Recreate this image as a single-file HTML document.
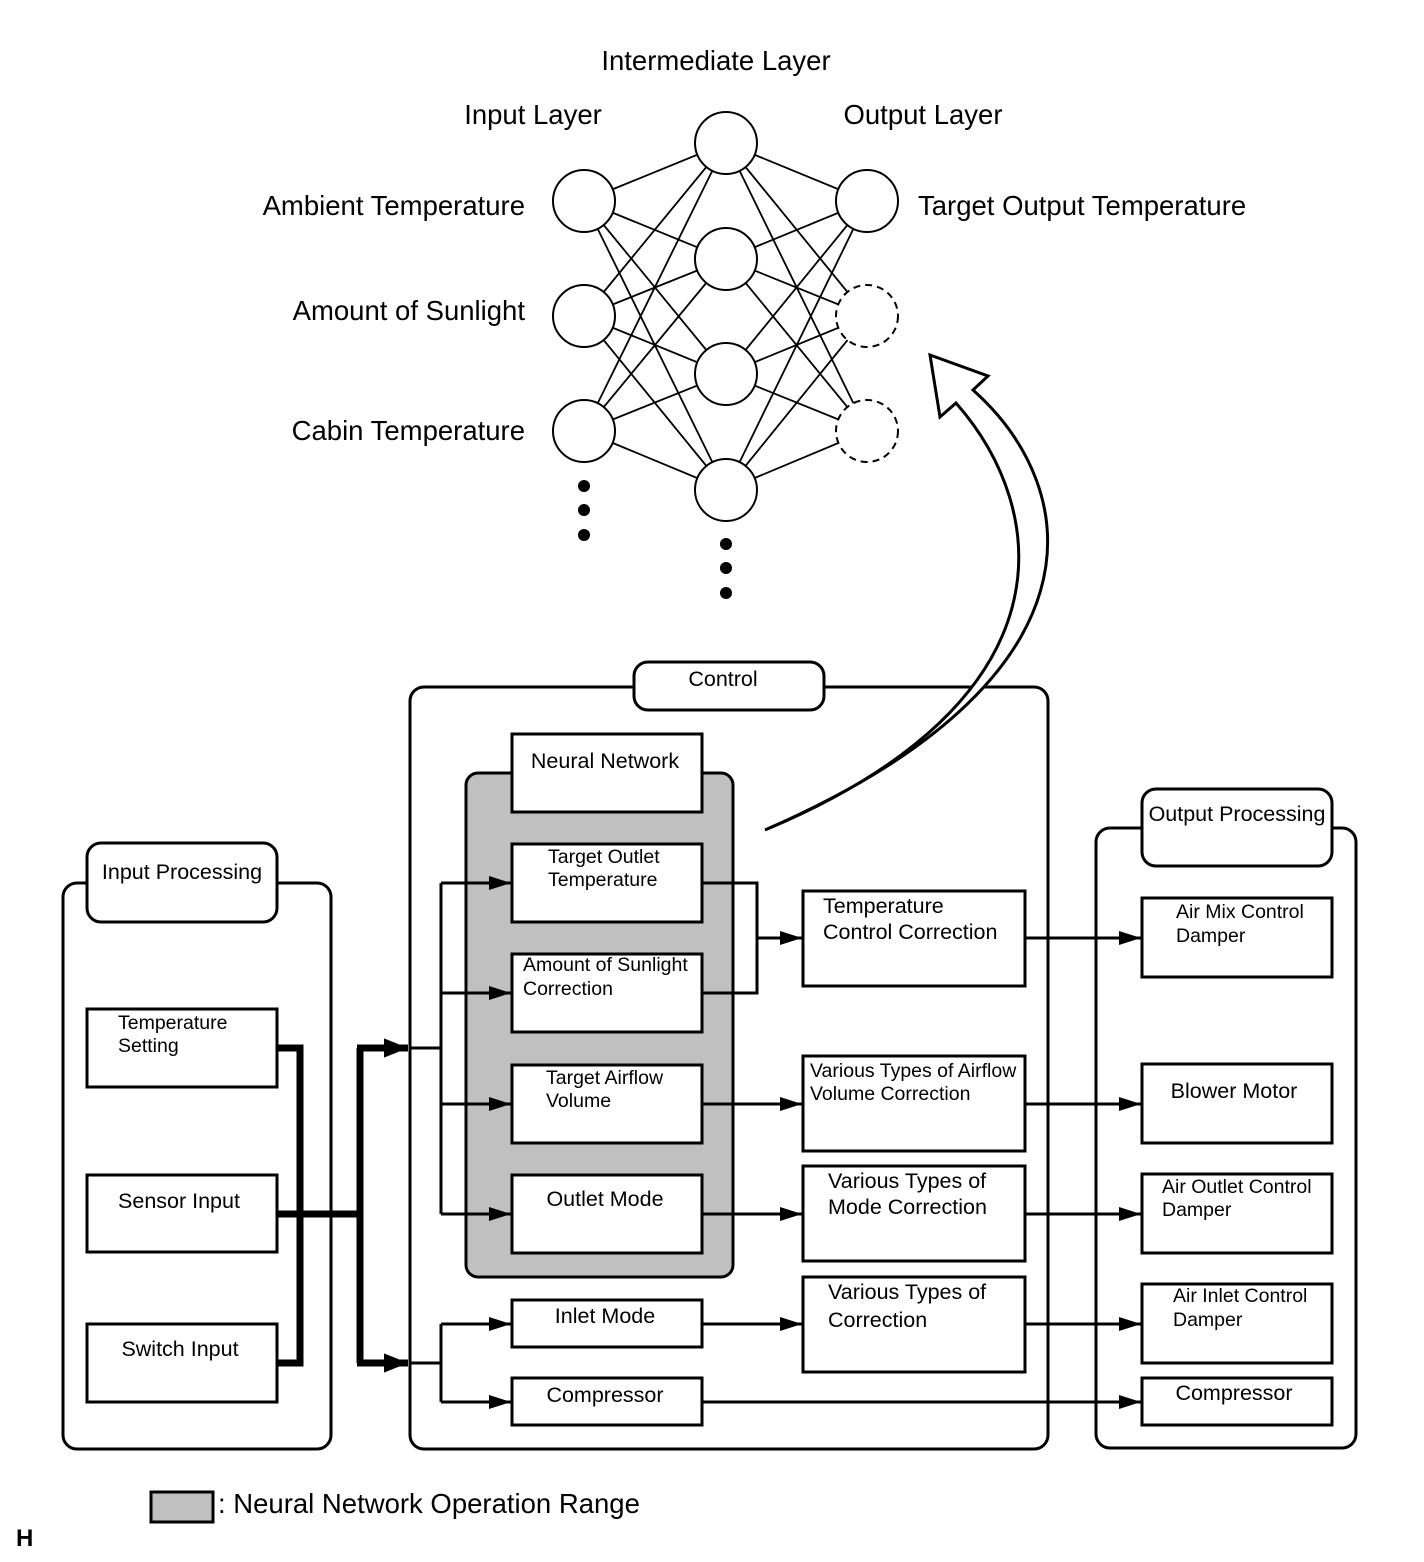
<!DOCTYPE html>
<html><head><meta charset="utf-8"><style>
body{margin:0;background:#fff}
svg{display:block;font-family:"Liberation Sans",Arial,sans-serif}
</style></head><body>
<svg width="1424" height="1562" viewBox="0 0 1424 1562" xmlns="http://www.w3.org/2000/svg">
<defs>
<marker id="a" viewBox="0 0 10 10" refX="10" refY="5" markerWidth="22" markerHeight="14" markerUnits="userSpaceOnUse" orient="auto" preserveAspectRatio="none"><path d="M0,0L10,5L0,10z" fill="#000"/></marker>
<marker id="ab" viewBox="0 0 10 10" refX="10" refY="5" markerWidth="24" markerHeight="24" markerUnits="userSpaceOnUse" orient="auto"><path d="M0,1L10,5L0,9z" fill="#000"/></marker>
</defs>
<g stroke="#000" stroke-width="2" fill="none">
<g stroke-width="1.8">
<path d="M584,201L726,143M584,201L726,259M584,201L726,374M584,201L726,490
M584,316L726,143M584,316L726,259M584,316L726,374M584,316L726,490
M584,431L726,143M584,431L726,259M584,431L726,374M584,431L726,490
M726,143L867,201M726,143L867,316M726,143L867,431
M726,259L867,201M726,259L867,316M726,259L867,431
M726,374L867,201M726,374L867,316M726,374L867,431
M726,490L867,201M726,490L867,316M726,490L867,431"/>
</g>
<g fill="#fff">
<circle cx="584" cy="201" r="31"/><circle cx="584" cy="316" r="31"/><circle cx="584" cy="431" r="31"/>
<circle cx="726" cy="143" r="31"/><circle cx="726" cy="259" r="31"/><circle cx="726" cy="374" r="31"/><circle cx="726" cy="490" r="31"/>
<circle cx="867" cy="201" r="31"/>
<circle cx="867" cy="316" r="31" stroke-dasharray="7,5"/><circle cx="867" cy="431" r="31" stroke-dasharray="7,5"/>
</g>
</g>
<g fill="#000">
<circle cx="584" cy="486" r="6"/><circle cx="584" cy="510" r="6"/><circle cx="584" cy="535" r="6"/>
<circle cx="726" cy="544" r="6"/><circle cx="726" cy="568" r="6"/><circle cx="726" cy="593" r="6"/>
</g>
<g font-size="27.5" fill="#000">
<text x="716" y="70" text-anchor="middle">Intermediate Layer</text>
<text x="533" y="124" text-anchor="middle">Input Layer</text>
<text x="923" y="124" text-anchor="middle">Output Layer</text>
<text x="525" y="215" text-anchor="end">Ambient Temperature</text>
<text x="525" y="320" text-anchor="end">Amount of Sunlight</text>
<text x="525" y="440" text-anchor="end">Cabin Temperature</text>
<text x="918" y="215">Target Output Temperature</text>
</g>

<g stroke="#000" stroke-width="3" fill="#fff">
<rect x="410" y="687" width="638" height="762" rx="14"/>
<rect x="634" y="662" width="190" height="48" rx="14"/>
<rect x="466" y="773" width="267" height="504" rx="12" fill="#c0c0c0"/>
<rect x="512" y="734" width="190" height="78"/>
<rect x="512" y="844" width="190" height="78"/>
<rect x="512" y="954" width="190" height="78"/>
<rect x="512" y="1065" width="190" height="78"/>
<rect x="512" y="1175" width="190" height="78"/>
<rect x="512" y="1300" width="190" height="47"/>
<rect x="512" y="1378" width="190" height="47"/>
<rect x="803" y="891" width="222" height="95"/>
<rect x="803" y="1056" width="222" height="95"/>
<rect x="803" y="1166" width="222" height="95"/>
<rect x="803" y="1277" width="222" height="95"/>
<rect x="1096" y="828" width="260" height="620" rx="14"/>
<rect x="1142" y="789" width="190" height="77" rx="14"/>
<rect x="1142" y="898" width="190" height="79"/>
<rect x="1142" y="1064" width="190" height="79"/>
<rect x="1142" y="1174" width="190" height="79"/>
<rect x="1142" y="1284" width="190" height="79"/>
<rect x="1142" y="1378" width="190" height="47"/>
<rect x="63" y="883" width="268" height="566" rx="14"/>
<rect x="87" y="843" width="190" height="79" rx="14"/>
<rect x="87" y="1009" width="190" height="78"/>
<rect x="87" y="1175" width="190" height="77"/>
<rect x="87" y="1324" width="190" height="78"/>
</g>

<path d="M930,355L940,417L956,403C1050,510 1075,700 765,830C1110,680 1085,490 973,390L988,376Z" fill="#fff" stroke="#000" stroke-width="3" stroke-linejoin="miter"/>

<g stroke="#000" stroke-width="7" fill="none">
<path d="M277,1048H300V1363H277M277,1214H360M360,1048V1363"/>
<path d="M357,1048H408" marker-end="url(#ab)"/>
<path d="M357,1363H408" marker-end="url(#ab)"/>
</g>
<g stroke="#000" stroke-width="3" fill="none">
<path d="M410,1048H441M441,883V1214M441,1324V1402M410,1363H441"/>
<path d="M441,883H511" marker-end="url(#a)"/>
<path d="M441,993H511" marker-end="url(#a)"/>
<path d="M441,1104H511" marker-end="url(#a)"/>
<path d="M441,1214H511" marker-end="url(#a)"/>
<path d="M441,1324H511" marker-end="url(#a)"/>
<path d="M441,1402H511" marker-end="url(#a)"/>
<path d="M702,883H757V993H702"/>
<path d="M757,938H802" marker-end="url(#a)"/>
<path d="M702,1104H802" marker-end="url(#a)"/>
<path d="M702,1214H802" marker-end="url(#a)"/>
<path d="M702,1324H802" marker-end="url(#a)"/>
<path d="M702,1402H1141" marker-end="url(#a)"/>
<path d="M1025,938H1141" marker-end="url(#a)"/>
<path d="M1025,1104H1141" marker-end="url(#a)"/>
<path d="M1025,1214H1141" marker-end="url(#a)"/>
<path d="M1025,1324H1141" marker-end="url(#a)"/>
</g>

<g fill="#000" font-size="21.5">
<text x="723" y="686" text-anchor="middle">Control</text>
<text x="605" y="768" text-anchor="middle">Neural Network</text>
<text x="548" y="863" font-size="19.5">Target Outlet</text>
<text x="548" y="886" font-size="19.5">Temperature</text>
<text x="523" y="971" font-size="19.5">Amount of Sunlight</text>
<text x="523" y="995" font-size="19.5">Correction</text>
<text x="546" y="1084" font-size="19.5">Target Airflow</text>
<text x="546" y="1107" font-size="19.5">Volume</text>
<text x="605" y="1206" text-anchor="middle">Outlet Mode</text>
<text x="605" y="1323" text-anchor="middle">Inlet Mode</text>
<text x="605" y="1402" text-anchor="middle">Compressor</text>
<text x="823" y="913">Temperature</text>
<text x="823" y="939">Control Correction</text>
<text x="810" y="1077" font-size="19.5">Various Types of Airflow</text>
<text x="810" y="1100" font-size="19.5">Volume Correction</text>
<text x="828" y="1188">Various Types of</text>
<text x="828" y="1214">Mode Correction</text>
<text x="828" y="1299">Various Types of</text>
<text x="828" y="1327">Correction</text>
<text x="1237" y="821" text-anchor="middle">Output Processing</text>
<text x="1176" y="918" font-size="19.5">Air Mix Control</text>
<text x="1176" y="942" font-size="19.5">Damper</text>
<text x="1234" y="1098" text-anchor="middle">Blower Motor</text>
<text x="1162" y="1193" font-size="19.5">Air Outlet Control</text>
<text x="1162" y="1216" font-size="19.5">Damper</text>
<text x="1173" y="1302" font-size="19.5">Air Inlet Control</text>
<text x="1173" y="1326" font-size="19.5">Damper</text>
<text x="1234" y="1400" text-anchor="middle">Compressor</text>
<text x="182" y="879" text-anchor="middle">Input Processing</text>
<text x="118" y="1029" font-size="19.5">Temperature</text>
<text x="118" y="1052" font-size="19.5">Setting</text>
<text x="179" y="1208" text-anchor="middle">Sensor Input</text>
<text x="180" y="1356" text-anchor="middle">Switch Input</text>
</g>

<rect x="151" y="1492" width="62" height="30" fill="#c0c0c0" stroke="#000" stroke-width="3"/>
<text x="218" y="1513" font-size="27.5">: Neural Network Operation Range</text>
<text x="16" y="1546" font-size="24" font-weight="bold">H</text>
</svg>
</body></html>
